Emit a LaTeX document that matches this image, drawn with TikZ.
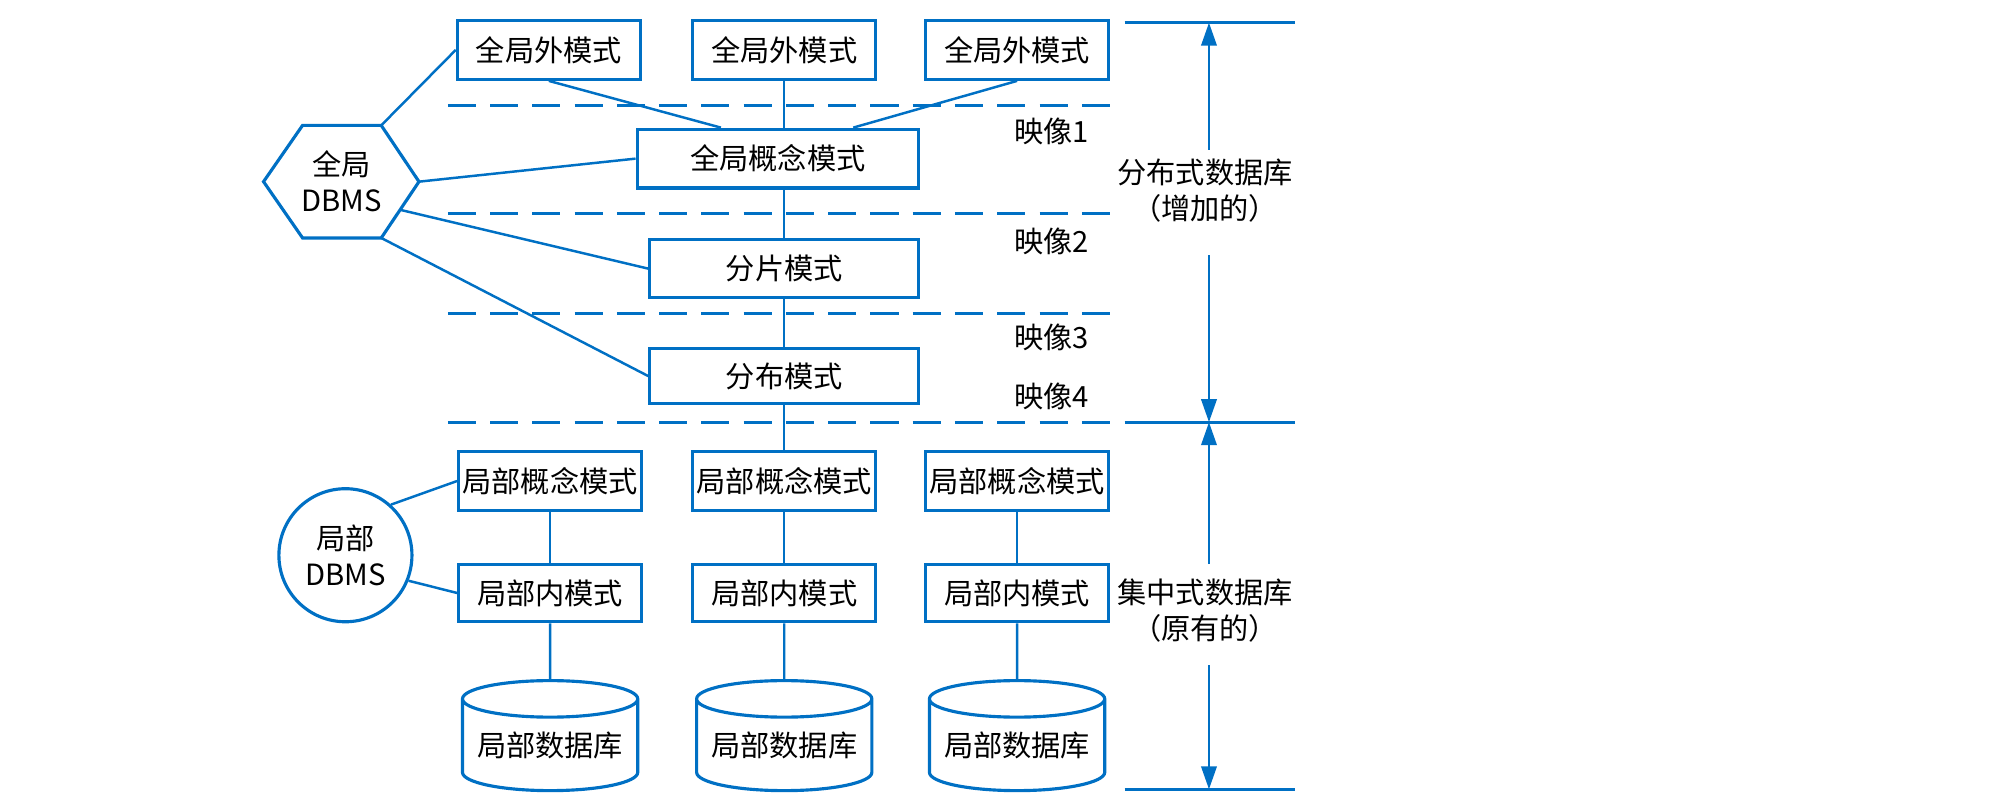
\documentclass[tikz,border=0pt]{standalone}
\usepackage{fontspec}
\setmainfont{Noto Sans CJK SC}
\usepackage{xcolor}
\usepackage{tikz}
\usetikzlibrary{shapes.geometric,calc,arrows.meta}

\definecolor{dbblue}{RGB}{0,112,196}

\begin{document}
\begin{tikzpicture}[x=0.2mm, y=-0.2mm,
    every node/.style={font=\fontsize{13}{16}\selectfont, text=black},
    box/.style={draw=dbblue, line width=1.4pt, minimum width=28.6mm, minimum height=9.2mm, inner sep=0pt},
    store/.style={cylinder, shape border rotate=90, aspect=0.25, draw=dbblue, line width=1.4pt,
                  minimum width=27.4mm, minimum height=17.2mm, inner sep=0pt, anchor=shape center},
    link/.style={draw=dbblue, line width=1.1pt},
    sepline/.style={draw=dbblue, line width=1.4pt, dash pattern=on 12.5pt off 6.3pt},
    rule/.style={draw=dbblue, line width=1.4pt},
    span/.style={draw=dbblue, line width=1.2pt, -{Triangle[length=3.6mm, width=2.4mm]}}]
  \useasboundingbox (0,0) rectangle (1568,632);

  % mapping separators
  \foreach \y in {82.5, 167, 245, 330}
    \draw[sepline] (350,\y) -- (870,\y);

  % global external schemas
  \foreach \i/\x in {1/429, 2/613, 3/795}
    \node[box] (ext\i) at (\x, 39) {全局外模式};

  % global part
  \node[box, minimum width=44mm] (gcs) at (608, 124) {全局概念模式};
  \node[box, minimum width=42mm, minimum height=9mm] (frag) at (613, 210) {分片模式};
  \node[box, minimum width=42mm, minimum height=8.6mm] (alloc) at (613, 294) {分布模式};

  \draw[link] (ext1.south) -- ($(gcs.north)!0.4!(gcs.north west)$);
  \draw[link] (ext2.south) -- (ext2.south |- gcs.north);
  \draw[link] (ext3.south) -- ($(gcs.north)!0.53!(gcs.north east)$);
  \draw[link] (frag.north |- gcs.south) -- (frag.north);
  \draw[link] (frag) -- (alloc);

  \node (map1) at (822, 103) {映像1};
  \node (map2) at (822, 188.5) {映像2};
  \node (map3) at (822, 264) {映像3};
  \node (map4) at (822, 309.5) {映像4};

  % global DBMS hexagon
  \coordinate (hexW) at (206, 142);
  \coordinate (hexNW) at (236.5, 98);
  \coordinate (hexNE) at (298, 98);
  \coordinate (hexE) at (327.5, 142);
  \coordinate (hexSE) at (298, 186);
  \coordinate (hexSW) at (236.5, 186);
  \coordinate (hexM) at ($(hexE)!0.5!(hexSE)$);
  \draw[rule] (hexW) -- (hexNW) -- (hexNE) -- (hexE) -- (hexSE) -- (hexSW) -- cycle;
  \node[align=center] (gdbms) at (267, 142) {全局\\DBMS};

  \draw[link] (hexNE) -- (ext1.west);
  \draw[link] (hexE) -- (gcs.west);
  \draw[link] (hexM) -- (frag.west);
  \draw[link] (hexSE) -- (alloc.west);

  % local sites
  \foreach \i/\x in {1/430, 2/613, 3/795} {
    \node[box] (lcs\i) at (\x, 376) {局部概念模式};
    \node[box, minimum height=9mm] (lis\i) at (\x, 463.5) {局部内模式};
    \node[store] (ldb\i) at (\x, 575) {局部数据库};
    \draw[link] (lcs\i) -- (lis\i);
    \draw[link] (lis\i) -- (ldb\i.north);
  }
  \draw[link] (alloc.south) -- (lcs2.north);

  % local DBMS
  \node[circle, draw=dbblue, line width=1.4pt, minimum size=20.8mm, inner sep=0pt, align=center]
    (ldbms) at (270, 434) {局部\\DBMS};
  \draw[link] (ldbms.48) -- (lcs1.west);
  \draw[link] (ldbms.-22) -- (lis1.west);

  % levels on the right
  \coordinate (lvlTop) at (945, 17.7);
  \coordinate (lvlMid) at (945, 330);
  \coordinate (lvlBot) at (945, 617);
  \foreach \c in {lvlTop, lvlMid, lvlBot}
    \draw[rule] ($(\c)+(-66,0)$) -- ($(\c)+(67,0)$);

  \node[align=center] (distdb) at (942, 149) {分布式数据库\\（增加的）};
  \node[align=center] (centdb) at (942, 477) {集中式数据库\\（原有的）};
  \coordinate (distUp) at (945, 117);
  \coordinate (distDn) at (945, 199.5);
  \coordinate (centUp) at (945, 441);
  \coordinate (centDn) at (945, 520);
  \draw[span] (distUp) -- (lvlTop);
  \draw[span] (distDn) -- (lvlMid);
  \draw[span] (centUp) -- (lvlMid);
  \draw[span] (centDn) -- (lvlBot);
\end{tikzpicture}
\end{document}
